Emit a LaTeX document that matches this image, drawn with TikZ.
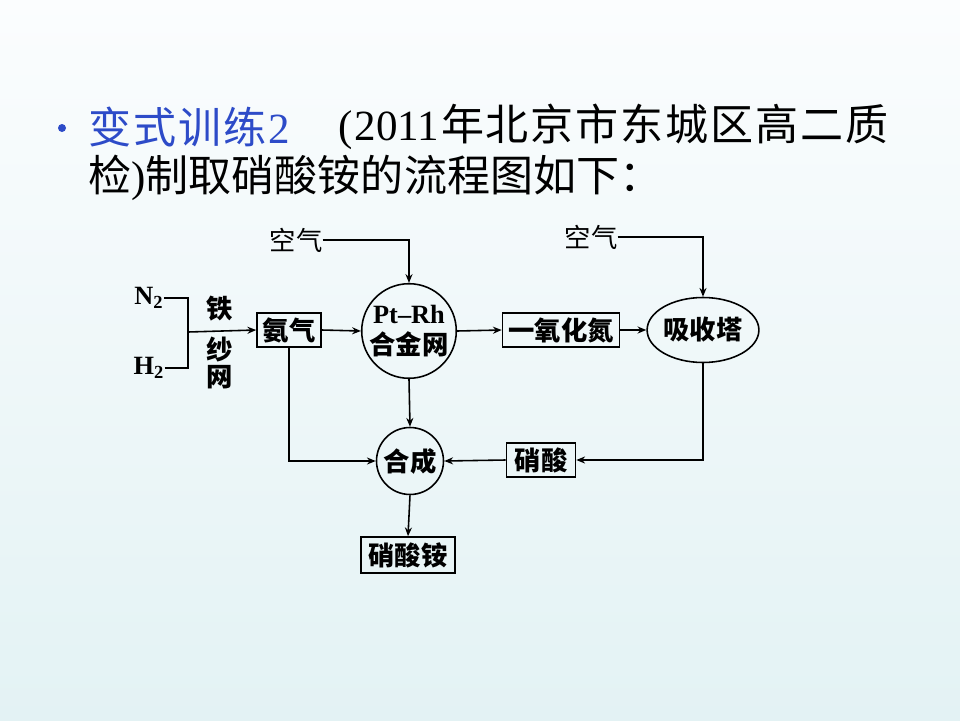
\documentclass[tikz,border=0pt]{standalone}
\usepackage{fontspec}
\setmainfont{Liberation Serif}
\newfontfamily\cjk{Noto Sans CJK SC}
\usetikzlibrary{arrows.meta,shapes.geometric}
\definecolor{slideblue}{RGB}{45,75,200}
\definecolor{bgtop}{RGB}{251,253,254}
\definecolor{bgbot}{RGB}{227,242,244}
\newcommand\gap{\kern1.1pt}
\newcommand\tgap{\kern1.2pt}
\tikzset{
  flow/.style={line width=0.9pt, -{Stealth[length=5pt,width=4pt]}},
  pipe/.style={line width=0.9pt},
  tag/.style={font=\fontsize{15}{15}\selectfont\bfseries, inner sep=0pt},
  boxnode/.style={draw, line width=0.9pt, inner sep=0pt, minimum height=0.67cm, font=\fontsize{15}{15}\selectfont\cjk\bfseries},
  unit/.style={draw, circle, line width=0.9pt, inner sep=0pt, align=center, font=\fontsize{15}{15}\selectfont\bfseries},
  title/.style={anchor=west, inner sep=0pt, font=\fontsize{24.5}{24.5}\selectfont}
}
\begin{document}
\begin{tikzpicture}[x=0.02cm, y=-0.02cm]
% background
\shade[top color=bgtop, bottom color=bgbot] (0,0) rectangle (960,720);
\useasboundingbox (0,0) rectangle (960,720);

% title lines
\fill[slideblue] (62,128) circle (4);
\node[title, text=slideblue] (t1) at (88,127) {{\cjk 变\tgap 式\tgap 训\tgap 练}\tgap 2};
\node[title] (t2) at (338,127) {(\gap 2011\gap{\cjk 年\gap 北\gap 京\gap 市\gap 东\gap 城\gap 区\gap 高\gap 二\gap 质}};
\node[title] (t3) at (88,178) {{\cjk 检}){\cjk 制取硝酸铵的流程图如下：}};

% feed gases
\node[tag] (n2) at (149,298) {N\textsubscript{2}};
\node[tag] (h2) at (149,368) {H\textsubscript{2}};
\coordinate (fork) at (188,332);
\node[tag, font=\fontsize{15}{15}\selectfont\cjk\bfseries] (g1) at (220,309) {铁};
\node[tag, font=\fontsize{15}{15}\selectfont\cjk\bfseries] (g2) at (220,350) {纱};
\node[tag, font=\fontsize{15}{15}\selectfont\cjk\bfseries] (g3) at (220,377) {网};

% units
\node[boxnode, minimum width=1.28cm] (nh3) at (289,330) {氨气};
\node[unit, minimum size=1.84cm] (pt) at (409,331) {Pt--Rh\\[3pt]{\cjk 合金网}};
\node[boxnode, minimum width=2.34cm] (no) at (561,330) {一氧化氮};
\node[draw, ellipse, line width=0.9pt, inner sep=0pt, minimum width=1.86cm, minimum height=1.3cm,
      font=\fontsize{15}{15}\selectfont\cjk\bfseries] (tower) at (703,330) {吸收塔};
\node[boxnode, minimum width=1.38cm] (acid) at (541,460) {硝酸};
\node[unit, minimum size=1.34cm, font=\fontsize{15}{15}\selectfont\cjk\bfseries] (syn) at (410,461) {合成};
\node[boxnode, minimum width=1.88cm, minimum height=0.72cm] (salt) at (408,555) {硝酸铵};

% air inlets
\node[tag, font=\fontsize{15}{15}\selectfont\cjk] (air1) at (296,240) {空气};
\node[tag, font=\fontsize{15}{15}\selectfont\cjk] (air2) at (591,237) {空气};

% connectors
\draw[pipe] (n2.east) -| (fork);
\draw[pipe] (h2.east) -| (fork);
\draw[flow] (fork) -- (nh3.west);
\draw[flow] (air1.east) -| (pt.north);
\draw[flow] (nh3.east) -- (pt.west);
\draw[flow] (pt.east) -- (no.west);
\draw[flow] (no.east) -- (tower.west);
\draw[flow] (air2.east) -| (tower.north);
\draw[flow] (tower.south) |- (acid.east);
\draw[flow] (acid.west) -- (syn.east);
\draw[flow] (pt.south) -- (syn.north);
\draw[flow] (nh3.south) |- (syn.west);
\draw[flow] (syn.south) -- (salt.north);
\end{tikzpicture}
\end{document}
